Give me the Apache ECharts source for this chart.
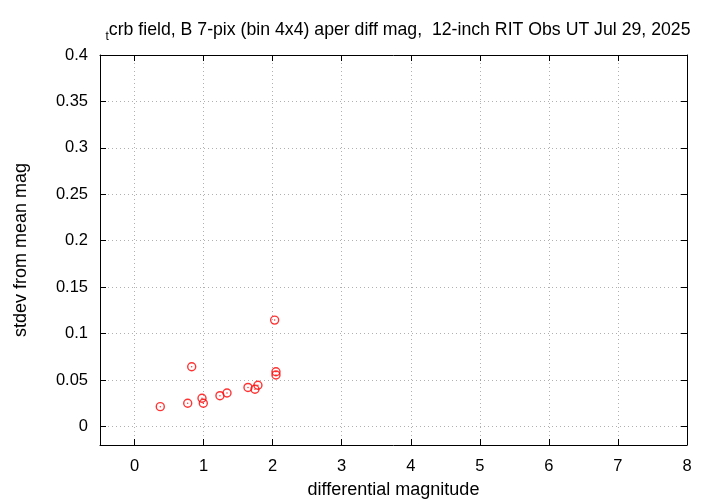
<!DOCTYPE html>
<html><head><meta charset="utf-8">
<script src="https://cdn.jsdelivr.net/npm/echarts@6/dist/echarts.min.js"></script>
<style>html,body{margin:0;padding:0;background:#fff}#c{width:720px;height:504px}</style>
</head><body><div id="c"></div>
<script>
const magnitudes = [0.373, 0.77, 0.828, 0.977, 0.996, 1.237, 1.339, 1.643, 1.744, 1.787, 2.029, 2.048, 2.048];
const stdevs     = [0.0213, 0.025, 0.0643, 0.0303, 0.025, 0.0331, 0.036, 0.042, 0.040, 0.0443, 0.1145, 0.0589, 0.0554];
const xTicks = [0, 1, 2, 3, 4, 5, 6, 7, 8];
const yTicks = [0, 0.05, 0.1, 0.15, 0.2, 0.25, 0.3, 0.35, 0.4];
const titleMain = 'crb field, B 7-pix (bin 4x4) aper diff mag,  12-inch RIT Obs UT Jul 29, 2025';
const titleSub = 't';
const xName = 'differential magnitude';
const yName = 'stdev from mean mag';

const FONT = 'Liberation Sans, Arial, sans-serif';
const points = magnitudes.map((m, i) => [m, stdevs[i]]);
const chart = echarts.init(document.getElementById('c'), null, {renderer: 'canvas'});

function baseAxis(extra) {
  return Object.assign({
    type: 'value',
    axisLine: {show: true, onZero: false, lineStyle: {color: '#000', width: 1}},
    axisTick: {show: true, inside: true, length: 6, lineStyle: {color: '#000'}},
    splitLine: {show: false},
    axisLabel: {show: false}
  }, extra);
}

chart.setOption({
  animation: false,
  backgroundColor: '#fff',
  title: {
    text: '{s|' + titleSub + '}{m|' + titleMain + '}',
    left: 393, top: 13, textAlign: 'center',
    textStyle: {
      fontWeight: 'normal',
      rich: {
        s: {fontFamily: FONT, fontSize: 12, fontWeight: 'normal', color: '#000', padding: [13, 0, 0, 0]},
        m: {fontFamily: FONT, fontSize: 17.7, fontWeight: 'normal', color: '#000'}
      }
    }
  },
  grid: {left: 100, right: 33, top: 55, bottom: 58, containLabel: false},
  xAxis: [
    baseAxis({
      min: -0.5, max: 8, position: 'bottom',
      name: xName, nameLocation: 'middle', nameGap: 36,
      nameTextStyle: {fontFamily: FONT, fontSize: 18, color: '#000'},
      axisTick: {show: true, inside: true, length: 6, lineStyle: {color: '#000'}, customValues: xTicks},
      axisLabel: {show: true, customValues: xTicks, margin: 13, fontFamily: FONT, fontSize: 16.5, color: '#000'},
      splitLine: {show: true, customValues: xTicks, lineStyle: {color: '#b0b0b0', type: [1, 3], width: 1}}
    }),
    baseAxis({
      min: -0.5, max: 8, position: 'top',
      axisTick: {show: true, inside: true, length: 6, lineStyle: {color: '#000'}, customValues: xTicks}
    })
  ],
  yAxis: [
    baseAxis({
      min: -0.02, max: 0.4, position: 'left',
      name: yName, nameLocation: 'middle', nameGap: 70, nameRotate: 90,
      nameTextStyle: {fontFamily: FONT, fontSize: 18, color: '#000'},
      axisTick: {show: true, inside: true, length: 6, lineStyle: {color: '#000'}, customValues: yTicks},
      axisLabel: {show: true, customValues: yTicks, margin: 12, fontFamily: FONT, fontSize: 16.5, color: '#000',
        formatter: v => String(+v.toFixed(2))},
      splitLine: {show: true, customValues: yTicks, lineStyle: {color: '#b0b0b0', type: [1, 3], width: 1}}
    }),
    baseAxis({
      min: -0.02, max: 0.4, position: 'right',
      axisTick: {show: true, inside: true, length: 6, lineStyle: {color: '#000'}, customValues: yTicks}
    })
  ],
  series: [
    {
      type: 'scatter', xAxisIndex: 0, yAxisIndex: 0, data: points,
      symbol: 'circle', symbolSize: 8,
      itemStyle: {color: 'rgba(0,0,0,0)', borderColor: '#ff0000', borderWidth: 1.4},
      emphasis: {disabled: true}
    },
    {
      type: 'scatter', xAxisIndex: 0, yAxisIndex: 0, data: points,
      symbol: 'circle', symbolSize: 1.5,
      itemStyle: {color: '#ff0000'},
      emphasis: {disabled: true}
    }
  ]
});
</script></body></html>
